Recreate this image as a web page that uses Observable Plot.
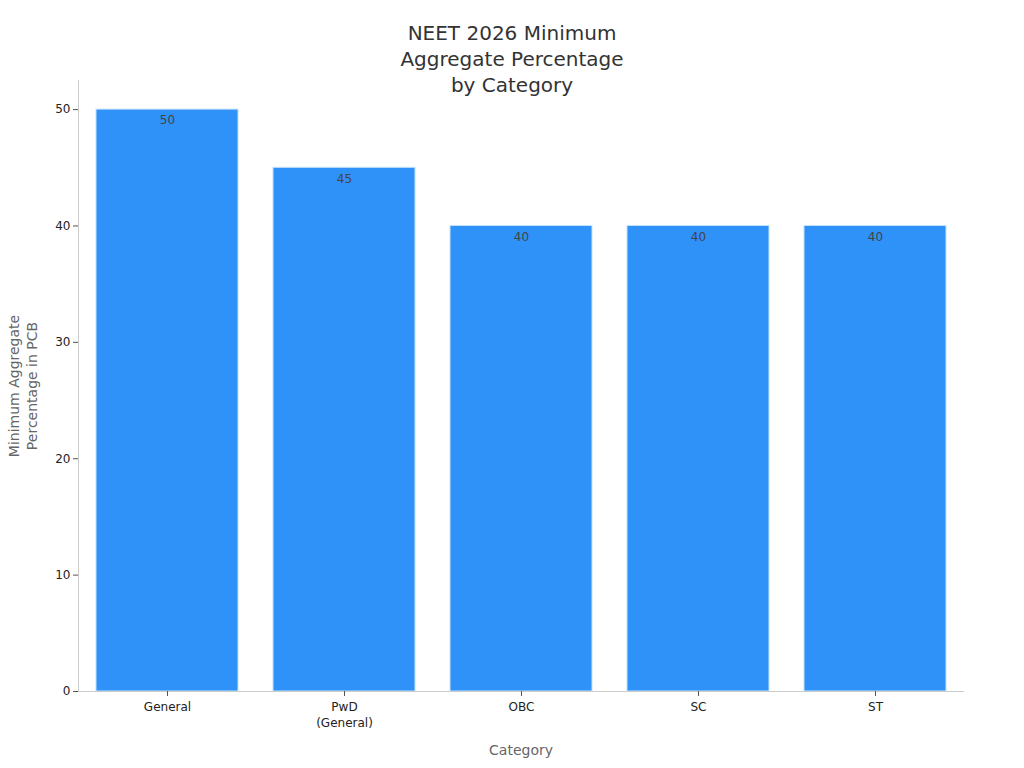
<!DOCTYPE html>
<html>
<head>
<meta charset="utf-8">
<script src="https://cdn.jsdelivr.net/npm/d3@7"></script>
<script src="https://cdn.jsdelivr.net/npm/@observablehq/plot@0.6"></script>
<style>
  html, body { margin: 0; padding: 0; background: #fff; }
  #wrap { position: relative; width: 1024px; height: 768px; font-family: "DejaVu Sans", sans-serif; }
  #title { position: absolute; left: 0; top: 20px; width: 1024px; text-align: center;
           font-size: 20px; line-height: 26px; color: #333; }
  #chart { position: absolute; left: 0; top: 0; }
</style>
</head>
<body>
<div id="wrap">
  <div id="chart"></div>
  <div id="title">NEET 2026 Minimum<br>Aggregate Percentage<br>by Category</div>
</div>
<script>
const categories = ["General", "PwD (General)", "OBC", "SC", "ST"];
const tickLabels = ["General", "PwD\n(General)", "OBC", "SC", "ST"];
const values = [50, 45, 40, 40, 40];
const yTicks = [0, 10, 20, 30, 40, 50];
const yLabel = "Minimum Aggregate\nPercentage in PCB";
const xLabel = "Category";

const data = categories.map((c, i) => ({category: c, value: values[i]}));
const labelOf = new Map(categories.map((c, i) => [c, tickLabels[i]]));

const plot = Plot.plot({
  width: 1024,
  height: 768,
  marginLeft: 78,
  marginRight: 61,
  marginTop: 80,
  marginBottom: 77,
  style: {fontFamily: "DejaVu Sans, sans-serif", fontSize: "12px", background: "#fff", color: "#222"},
  x: {domain: categories, paddingInner: 0.2, paddingOuter: 0.1, label: null},
  y: {domain: [0, 52.5], label: null},
  marks: [
    Plot.barY(data, {x: "category", y: "value", fill: "#2f92f8", stroke: "#c6e1fd", strokeWidth: 1}),
    Plot.text(data, {x: "category", y: "value", text: d => String(d.value), dy: 11, fill: "#444", fontSize: 12}),
    Plot.frame({anchor: "left", stroke: "#ccc"}),
    Plot.frame({anchor: "bottom", stroke: "#ccc"}),
    Plot.axisY({ticks: yTicks, tickSize: 5, tickPadding: 3, stroke: "#555", label: null, fontSize: 12, fill: "#222"}),
    Plot.axisX({tickSize: 5, tickPadding: 3, tickFormat: d => labelOf.get(d), label: null, fontSize: 12, lineHeight: 1.33, fill: "#222", stroke: "#555"}),
    Plot.text([yLabel], {frameAnchor: "left", textAnchor: "middle", rotate: -90, dx: -56, fontSize: 14, fill: "#666", lineAnchor: "middle", lineHeight: 1.3}),
    Plot.text([xLabel], {frameAnchor: "bottom", dy: 63, fontSize: 14, fill: "#666"})
  ]
});
document.getElementById("chart").appendChild(plot);
</script>
</body>
</html>
